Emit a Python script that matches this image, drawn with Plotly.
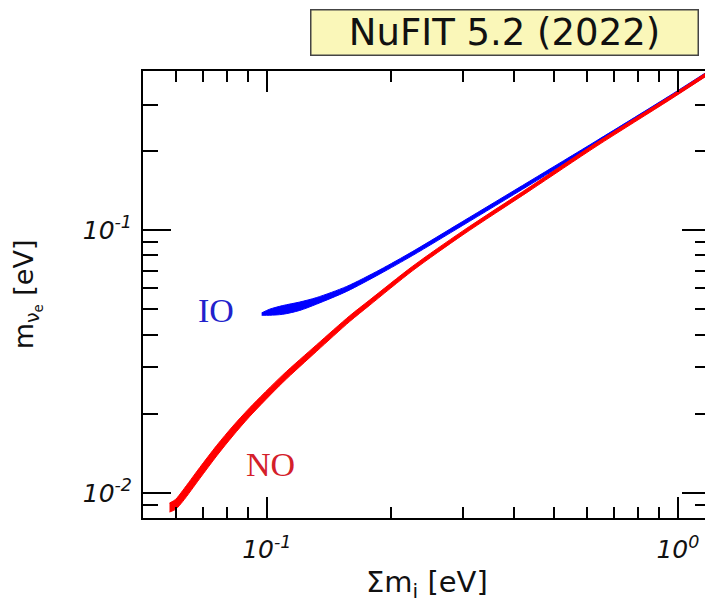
import math
import plotly.graph_objects as go

# ---- data ----
no_sum = [0.0580, 0.0600, 0.0625, 0.0687, 0.0756, 0.0827, 0.0909, 0.1094, 0.1323,
          0.1591, 0.1781, 0.2266, 0.2999, 0.4364, 0.6353, 0.956, 1.197]
no_lo = [0.00846, 0.00866, 0.00929, 0.01134, 0.01385, 0.01648, 0.01954, 0.02631, 0.03459,
         0.04485, 0.05179, 0.07011, 0.09580, 0.14113, 0.2087, 0.3127, 0.3930]
no_hi = [0.00915, 0.00945, 0.01023, 0.01249, 0.01518, 0.01795, 0.02109, 0.02812, 0.03664,
         0.04718, 0.05424, 0.07291, 0.09922, 0.14590, 0.2154, 0.3224, 0.4051]

io_sum = [0.0972, 0.1017, 0.1094, 0.1203, 0.1323, 0.1565, 0.1884, 0.2266, 0.2999,
          0.4364, 0.6353, 0.956, 1.197]
io_lo = [0.0474, 0.0474, 0.0478, 0.04944, 0.05227, 0.05841, 0.06804, 0.08008, 0.10416,
         0.14851, 0.21216, 0.31468, 0.39396]
io_hi = [0.0484, 0.0500, 0.0516, 0.05322, 0.05537, 0.06102, 0.07059, 0.08294, 0.10788,
         0.15352, 0.2189, 0.32439, 0.40612]

x_major = [0.1, 1.0]
x_major_text = ["10<sup>-1</sup>", "10<sup>0</sup>"]
y_major = [0.01, 0.1]
y_major_text = ["10<sup>-2</sup>", "10<sup>-1</sup>"]
x_minor = [0.06, 0.07, 0.08, 0.09, 0.2, 0.3, 0.4, 0.5, 0.6, 0.7, 0.8, 0.9]
y_minor = [0.009, 0.02, 0.03, 0.04, 0.05, 0.06, 0.07, 0.08, 0.09, 0.2, 0.3]

x_range = [0.05, 1.197]
y_range = [0.00803, 0.4024]

BLUE = "#0000ff"
RED = "#ff0000"

fig = go.Figure()

def band(xs, lo, hi, color):
    fig.add_trace(go.Scatter(x=xs, y=lo, mode="lines",
                             line=dict(color=color, width=1, shape="spline", smoothing=0.8),
                             hoverinfo="skip", showlegend=False))
    fig.add_trace(go.Scatter(x=xs, y=hi, mode="lines",
                             line=dict(color=color, width=1, shape="spline", smoothing=0.8),
                             fill="tonexty", fillcolor=color, hoverinfo="skip", showlegend=False))

band(io_sum, io_lo, io_hi, BLUE)
band(no_sum, no_lo, no_hi, RED)

tickfont = dict(family="DejaVu Sans", size=25, color="#111", style="italic")

fig.update_xaxes(
    type="log", range=[math.log10(x_range[0]), math.log10(x_range[1])],
    showgrid=False, zeroline=False, automargin=False,
    showline=True, linecolor="black", linewidth=2, mirror="ticks",
    ticks="inside", ticklen=21, tickwidth=2, tickcolor="black",
    tickmode="array", tickvals=x_major, ticktext=x_major_text,
    tickfont=tickfont, ticklabelstandoff=8,
    minor=dict(ticks="inside", ticklen=11, tickwidth=2, tickcolor="black",
               tickmode="array", tickvals=x_minor, showgrid=False),
)
fig.update_yaxes(
    type="log", range=[math.log10(y_range[0]), math.log10(y_range[1])],
    showgrid=False, zeroline=False, automargin=False,
    showline=True, linecolor="black", linewidth=2, mirror="ticks",
    ticks="inside", ticklen=28, tickwidth=2, tickcolor="black",
    tickmode="array", tickvals=y_major, ticktext=y_major_text,
    tickfont=tickfont, ticklabelstandoff=4,
    minor=dict(ticks="inside", ticklen=15, tickwidth=2, tickcolor="black",
               tickmode="array", tickvals=y_minor, showgrid=False),
)

annotations = [
    dict(text="NuFIT 5.2 (2022)", xref="paper", yref="paper", x=0.6367, y=1.086,
         xanchor="center", yanchor="middle", showarrow=False,
         font=dict(family="DejaVu Sans", size=37, color="#111"),
         bgcolor="#faf7b9", bordercolor="#444", borderwidth=1.5, borderpad=1,
         width=384, height=42),
    dict(text="Σm<sub>i</sub> [eV]", xref="paper", yref="paper", x=0.5, y=-0.148,
         xanchor="center", yanchor="middle", showarrow=False,
         font=dict(family="DejaVu Sans", size=29, color="#111")),
    dict(text="m<sub>ν<sub>e</sub></sub> [eV]", xref="paper", yref="paper", x=-0.205, y=0.50,
         xanchor="center", yanchor="middle", showarrow=False, textangle=-90,
         font=dict(family="DejaVu Sans", size=27, color="#111")),
    dict(text="IO", x=math.log10(0.0751), y=math.log10(0.0492), xref="x", yref="y",
         showarrow=False, font=dict(family="Liberation Serif", size=34, color="#2222cc")),
    dict(text="NO", x=math.log10(0.1023), y=math.log10(0.01278), xref="x", yref="y",
         showarrow=False, font=dict(family="Liberation Serif", size=34, color="#d4202a")),
]

# The page body adds an 8 px offset, so the figure is 8 px smaller and margins shifted.
fig.update_layout(
    width=705, height=596,
    margin=dict(l=135, r=3, t=63, b=86),
    paper_bgcolor="white", plot_bgcolor="white",
    annotations=annotations,
    showlegend=False,
)

fig.write_html("out.html")
